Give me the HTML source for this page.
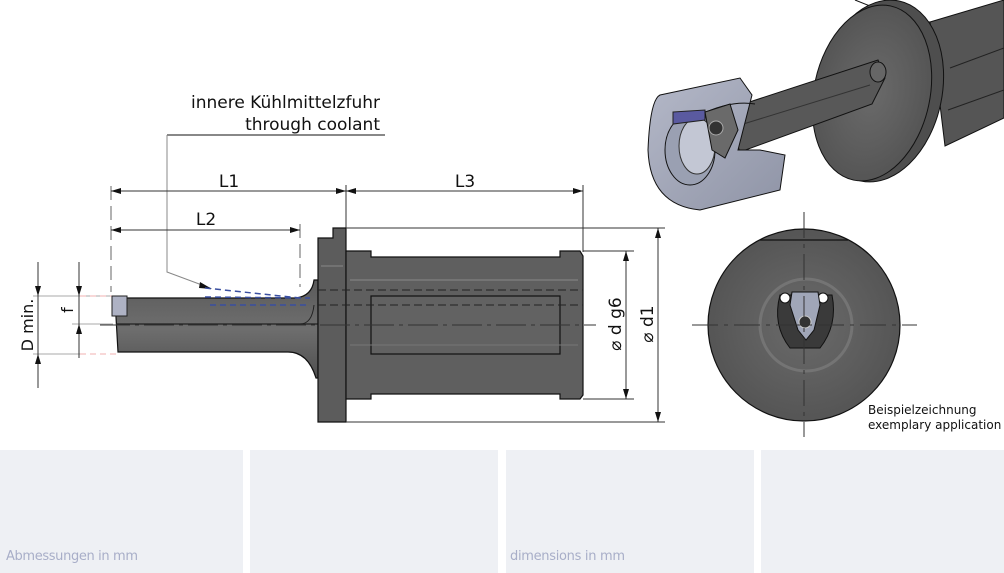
<!DOCTYPE html>
<html><head><meta charset="utf-8"><style>
html,body{margin:0;padding:0;background:#fff}
svg{display:block}
text{font-family:"DejaVu Sans","Liberation Sans",sans-serif}
</style></head><body>
<svg width="1004" height="573" viewBox="0 0 1004 573" xmlns="http://www.w3.org/2000/svg">
<defs>
<marker id="a" viewBox="0 0 10 6" refX="10" refY="3" markerWidth="14" markerHeight="6" markerUnits="userSpaceOnUse" orient="auto-start-reverse"><path d="M0,0 L10,3 L0,6z" fill="#111"/></marker>
<linearGradient id="sh" x1="0" y1="0" x2="0" y2="1"><stop offset="0" stop-color="#5a5a5a"/><stop offset=".5" stop-color="#6e6e6e"/><stop offset="1" stop-color="#505050"/></linearGradient>
<linearGradient id="ring" x1="0" y1="0" x2="1" y2="1"><stop offset="0" stop-color="#b4b8c8"/><stop offset="1" stop-color="#8f94a6"/></linearGradient>
<radialGradient id="disc" cx=".5" cy=".5" r=".5"><stop offset="0" stop-color="#6a6a6a"/><stop offset=".6" stop-color="#5e5e5e"/><stop offset="1" stop-color="#555"/></radialGradient>
</defs>

<rect x="0" y="450" width="243" height="123" fill="#eef0f4"/>
<rect x="250" y="450" width="248" height="123" fill="#eef0f4"/>
<rect x="506" y="450" width="248" height="123" fill="#eef0f4"/>
<rect x="761" y="450" width="243" height="123" fill="#eef0f4"/>
<text x="6" y="560" font-size="13" fill="#a8aec8" font-family="Liberation Sans Narrow, Liberation Sans, sans-serif" textLength="132">Abmessungen in mm</text>
<text x="510" y="560" font-size="13" fill="#a8aec8" font-family="Liberation Sans Narrow, Liberation Sans, sans-serif" textLength="115">dimensions in mm</text>

<text x="380" y="108" font-size="17" text-anchor="end" fill="#111">innere Kühlmittelzfuhr</text>
<text x="380" y="130" font-size="17" text-anchor="end" fill="#111">through coolant</text>
<line x1="167" y1="135" x2="385" y2="135" stroke="#111" stroke-width="1"/>
<polyline points="167,135 167,272 210,288" fill="none" stroke="#888" stroke-width="1"/>
<path d="M200,282 L212,289 L199,288z" fill="#111"/>

<line x1="111" y1="186" x2="111" y2="292" stroke="#666" stroke-width="1" stroke-dasharray="14,6"/>
<line x1="300" y1="224" x2="300" y2="287" stroke="#666" stroke-width="1" stroke-dasharray="14,6"/>
<line x1="346" y1="185" x2="346" y2="230" stroke="#333" stroke-width="1"/>
<line x1="583" y1="185" x2="583" y2="252" stroke="#333" stroke-width="1"/>

<line x1="111" y1="191" x2="346" y2="191" stroke="#333" stroke-width="1" marker-start="url(#a)" marker-end="url(#a)"/>
<line x1="346" y1="191" x2="583" y2="191" stroke="#333" stroke-width="1" marker-start="url(#a)" marker-end="url(#a)"/>
<line x1="111" y1="230" x2="300" y2="230" stroke="#333" stroke-width="1" marker-start="url(#a)" marker-end="url(#a)"/>
<text x="229" y="187" font-size="17" text-anchor="middle" fill="#111">L1</text>
<text x="465" y="187" font-size="17" text-anchor="middle" fill="#111">L3</text>
<text x="206" y="225" font-size="17" text-anchor="middle" fill="#111">L2</text>

<line x1="33" y1="296" x2="113" y2="296" stroke="#aaa" stroke-width="1"/>
<line x1="33" y1="354" x2="80" y2="354" stroke="#aaa" stroke-width="1"/>
<line x1="80" y1="296" x2="118" y2="296" stroke="#f0b0b0" stroke-width="1" stroke-dasharray="6,4"/>
<line x1="80" y1="354" x2="118" y2="354" stroke="#f0b0b0" stroke-width="1" stroke-dasharray="6,4"/>
<line x1="72" y1="324" x2="113" y2="324" stroke="#aaa" stroke-width="1"/>
<line x1="38" y1="262" x2="38" y2="296" stroke="#333" marker-end="url(#a)"/>
<line x1="38" y1="388" x2="38" y2="354" stroke="#333" marker-end="url(#a)"/>
<line x1="38" y1="296" x2="38" y2="354" stroke="#333"/>
<line x1="79" y1="262" x2="79" y2="296" stroke="#333" marker-end="url(#a)"/>
<line x1="79" y1="358" x2="79" y2="324" stroke="#333" marker-end="url(#a)"/>
<line x1="79" y1="296" x2="79" y2="324" stroke="#333"/>
<text transform="translate(33,325) rotate(-90)" font-size="16" text-anchor="middle" fill="#111">D min.</text>
<text transform="translate(73,310) rotate(-90)" font-size="16" text-anchor="middle" fill="#111">f</text>

<path d="M116,298 L296,298 Q312,296 314,280 L318,280 L318,378 L316,378 Q308,352 288,352 L118,352 L116,317z" fill="url(#sh)" stroke="#111" stroke-width="1.2"/>
<line x1="116" y1="324" x2="318" y2="324" stroke="#222" stroke-width="1.2"/>
<path d="M127,324 L300,324 Q312,324 314,305" fill="none" stroke="#222" stroke-width="1"/>
<rect x="112" y="296" width="15" height="20" fill="#aeb2c4" stroke="#222" stroke-width="1"/>
<line x1="205" y1="288" x2="300" y2="298" stroke="#3a4fa0" stroke-width="1.5" stroke-dasharray="6,4"/>
<line x1="205" y1="297" x2="310" y2="298" stroke="#3a4fa0" stroke-width="1.5" stroke-dasharray="6,4"/>
<line x1="210" y1="305" x2="310" y2="305" stroke="#3a4fa0" stroke-width="1.5" stroke-dasharray="6,4"/>

<path d="M318,238 L333,238 L333,228 L346,228 L346,422 L318,422z" fill="#5c5c5c" stroke="#111" stroke-width="1.2"/>
<line x1="321" y1="266" x2="343" y2="266" stroke="#888" stroke-width="1"/>
<path d="M346,251 L371,251 L371,257 L560,257 L560,251 L580,251 L583,256 L583,395 L580,399 L560,399 L560,394 L371,394 L371,399 L346,399z" fill="#5f5f5f" stroke="#111" stroke-width="1.2"/>
<rect x="371" y="296" width="189" height="58" fill="#626262" stroke="#111" stroke-width="1.2"/>
<line x1="350" y1="280" x2="578" y2="280" stroke="#8a8a8a" stroke-width="1"/>
<line x1="350" y1="345" x2="578" y2="345" stroke="#777" stroke-width="1"/>
<line x1="318" y1="290" x2="583" y2="290" stroke="#222" stroke-dasharray="8,4"/>
<line x1="318" y1="305" x2="583" y2="305" stroke="#222" stroke-dasharray="8,4"/>
<line x1="100" y1="325" x2="596" y2="325" stroke="#333" stroke-dasharray="30,5,4,5"/>

<line x1="583" y1="251" x2="634" y2="251" stroke="#333"/>
<line x1="583" y1="399" x2="634" y2="399" stroke="#333"/>
<line x1="346" y1="228" x2="665" y2="228" stroke="#333"/>
<line x1="346" y1="422" x2="665" y2="422" stroke="#333"/>
<line x1="626" y1="251" x2="626" y2="399" stroke="#333" marker-start="url(#a)" marker-end="url(#a)"/>
<line x1="658" y1="228" x2="658" y2="422" stroke="#333" marker-start="url(#a)" marker-end="url(#a)"/>
<text transform="translate(621,324) rotate(-90)" font-size="17" text-anchor="middle" fill="#111">⌀ d g6</text>
<text transform="translate(653,324) rotate(-90)" font-size="17" text-anchor="middle" fill="#111">⌀ d1</text>

<circle cx="804" cy="325" r="96" fill="url(#disc)" stroke="#111" stroke-width="1.2"/>
<line x1="760" y1="240" x2="848" y2="240" stroke="#111" stroke-width="1.2"/>
<ellipse cx="806" cy="325" rx="46" ry="46" fill="none" stroke="#888" stroke-width="3" opacity=".5"/>
<path d="M780,295 Q772,325 790,348 L820,348 Q838,325 832,295z" fill="#3a3a3a" stroke="#111"/>
<circle cx="785" cy="298" r="5" fill="#fff" stroke="#111"/>
<circle cx="823" cy="298" r="5" fill="#fff" stroke="#111"/>
<path d="M792,292 L818,292 L820,305 L814,330 L806,340 L798,330 L790,305z" fill="#a0a6b8" stroke="#111"/>
<circle cx="805" cy="322" r="6" fill="#333" stroke="#ccc"/>
<line x1="692" y1="325" x2="917" y2="325" stroke="#333" stroke-dasharray="26,6,4,6"/>
<line x1="804" y1="212" x2="804" y2="437" stroke="#333" stroke-dasharray="26,6,4,6"/>
<text x="868" y="414" font-size="12" fill="#111">Beispielzeichnung</text>
<text x="868" y="429" font-size="12" fill="#111">exemplary application</text>

<path d="M930,22 L1004,0 L1004,118 L945,146z" fill="#555" stroke="#111"/>
<path d="M950,68 L1004,48" stroke="#222"/>
<path d="M948,110 L1004,90" stroke="#222"/>
<path d="M855,0 L905,20 L930,22" fill="none" stroke="#111"/>
<ellipse cx="880" cy="91" rx="62" ry="92" transform="rotate(12 880 91)" fill="#4e4e4e" stroke="#111"/>
<ellipse cx="872" cy="93" rx="58" ry="89" transform="rotate(12 872 93)" fill="url(#disc)" stroke="#111"/>
<path d="M725,110 L878,60 L885,78 L872,104 L740,152z" fill="#585858" stroke="#111"/>
<line x1="740" y1="125" x2="870" y2="85" stroke="#333"/>
<ellipse cx="878" cy="72" rx="8" ry="10" fill="#666" stroke="#111"/>
<path d="M660,95 L740,78 L752,95 L738,150 L760,150 L785,155 L780,190 L700,210 Q650,205 648,150 Q650,100 660,95z" fill="url(#ring)" stroke="#111"/>
<ellipse cx="690" cy="150" rx="25" ry="35" fill="#9aa0b2" stroke="#111"/>
<ellipse cx="697" cy="146" rx="18" ry="28" fill="#c3c7d4" stroke="#333"/>
<path d="M700,115 Q730,100 755,104" stroke="#111" fill="none"/>
<path d="M673,112 L705,110 L705,120 L673,124z" fill="#5a5aa0" stroke="#222"/>
<path d="M705,112 L730,104 L738,130 L725,158 L712,150z" fill="#6a6a6a" stroke="#111"/>
<circle cx="716" cy="128" r="7" fill="#333" stroke="#aaa"/>
</svg>
</body></html>
